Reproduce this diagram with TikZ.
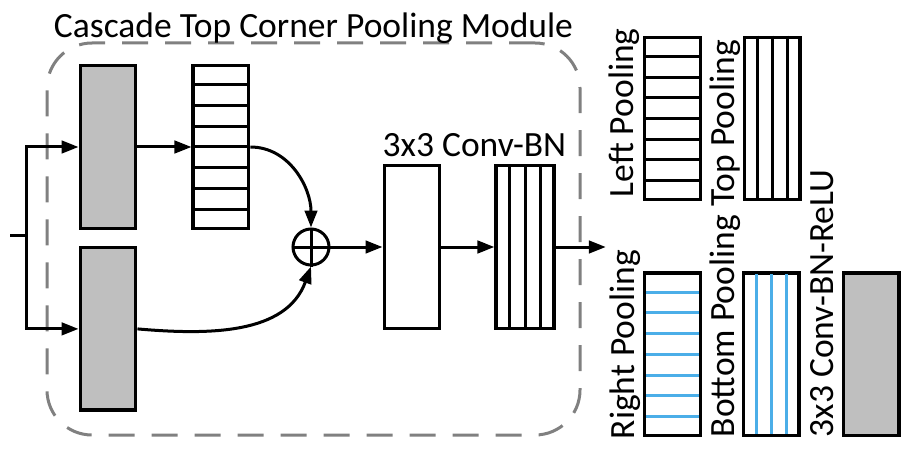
\documentclass[tikz,border=0pt]{standalone}
\usepackage{fontspec}
\setmainfont{Carlito}
\usetikzlibrary{arrows.meta,positioning,calc}
\definecolor{ink}{HTML}{000000}
\definecolor{convgray}{HTML}{BFBFBF}
\definecolor{framegray}{HTML}{808080}
\definecolor{poolblue}{HTML}{4BAEE8}

\begin{document}
\begin{tikzpicture}[
  x=1pt, y=1pt, color=ink, font=\fontsize{35.5}{42}\selectfont,
  node distance=16pt and 54pt,
  blk/.style={draw, line width=3.4pt, minimum width=55.5pt, minimum height=162.5pt, inner sep=0pt},
  graybox/.style={blk, fill=convgray},
  stripe/.style={line width=3pt},
  bluestripe/.style={stripe, color=poolblue, shorten <=3pt, shorten >=3pt},
  flow/.style={-{Triangle[length=17pt, width=12.5pt]}, line width=3pt},
  modframe/.style={draw=framegray, line width=3pt, dash pattern=on 26pt off 17pt,
                   rounded corners=45pt, minimum width=533pt, minimum height=392pt, inner sep=0pt},
  sidelbl/.style={rotate=90, anchor=base west, inner sep=0pt},
]
\useasboundingbox (0,0) rectangle (918,456);

% module frame and title
\node[modframe] (module) at (313.5,217) {};
\node[anchor=base, inner sep=0pt] (title) at ($(module.north)+(0,4)$) {Cascade Top Corner Pooling Module};

% branches
\node[graybox] (gray1) at (108,309) {};
\node[graybox, below=of gray1] (gray2) {};
\node[blk, right=of gray1] (hpool) {};
\node[circle, draw, line width=3pt, minimum size=36pt, inner sep=0pt] (sum) at (311,209) {};
\node[blk, right=52pt of sum] (conv) {};
\node[blk, minimum width=58pt, right=53pt of conv] (vpool) {};
\node[anchor=base west, inner sep=0pt] (convlbl) at ($(conv.north west)+(0,8)$) {3x3 Conv-BN};

\foreach \i in {1,...,7}
  \draw[stripe] ($(hpool.north west)!\i/8!(hpool.south west)$) -- ($(hpool.north east)!\i/8!(hpool.south east)$);
\foreach \i in {1,...,3}
  \draw[stripe] ($(vpool.north west)!\i/4!(vpool.north east)$) -- ($(vpool.south west)!\i/4!(vpool.south east)$);
\draw[stripe] (sum.north) -- (sum.south);
\draw[stripe] (sum.west) -- (sum.east);

% input and connections
\coordinate (in) at (10,221);
\coordinate[right=16pt of in] (split);
\coordinate[right=50pt of vpool] (out);
\draw[line width=3pt] (in) -- (split);
\draw[flow] (split) |- (gray1.west);
\draw[flow] (split) |- (gray2.west);
\draw[flow] (gray1) -- (hpool);
\draw[flow] (hpool.east) to[out=0, in=90] (sum.north);
\draw[flow] (gray2.east) to[out=-5, in=-110] (sum.south);
\draw[flow] (sum) -- (conv);
\draw[flow] (conv) -- (vpool);
\draw[flow] (vpool) -- (out);

% legend
\node[blk] (lp) at (672.5,337.5) {};
\node[blk, right=41pt of lp] (tp) {};
\node[blk, below=70pt of lp] (rp) {};
\node[blk, right=40pt of rp] (bp) {};
\node[graybox, right=41pt of bp] (cbr) {};

\foreach \i in {1,...,7} {
  \draw[stripe] ($(lp.north west)!\i/8!(lp.south west)$) -- ($(lp.north east)!\i/8!(lp.south east)$);
  \draw[bluestripe] ($(rp.north west)!\i/8!(rp.south west)$) -- ($(rp.north east)!\i/8!(rp.south east)$);
}
\foreach \i in {1,...,3} {
  \draw[stripe] ($(tp.north west)!\i/4!(tp.north east)$) -- ($(tp.south west)!\i/4!(tp.south east)$);
  \draw[bluestripe] ($(bp.north west)!\i/4!(bp.north east)$) -- ($(bp.south west)!\i/4!(bp.south east)$);
}

\node[sidelbl] (lplbl) at ($(lp.south west)+(-10,4)$) {Left Pooling};
\node[sidelbl] (tplbl) at ($(tp.south west)+(-8,-5)$) {Top Pooling};
\node[sidelbl] (rplbl) at ($(rp.south west)+(-9,-2)$) {Right Pooling};
\node[sidelbl] (bplbl) at ($(bp.south west)+(-7,0)$) {Bottom Pooling};
\node[sidelbl] (cbrlbl) at ($(cbr.south west)+(-8,0)$) {3x3 Conv-BN-ReLU};
\end{tikzpicture}
\end{document}
